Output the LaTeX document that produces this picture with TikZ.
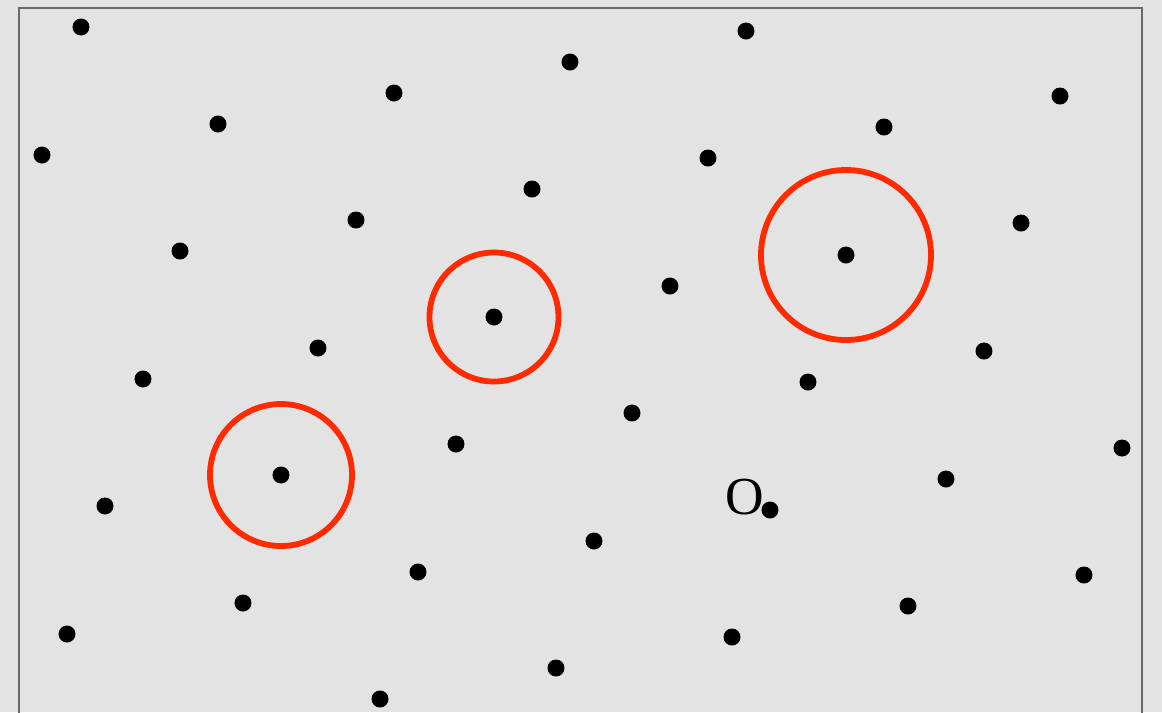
\documentclass[tikz,border=0pt]{standalone}
\usepackage{fontspec}
\setmainfont{Liberation Serif}
\usetikzlibrary{positioning}
\definecolor{plane}{HTML}{E3E3E3}
\definecolor{frame}{HTML}{6A6A6A}
\definecolor{ring}{HTML}{FF2A00}
\tikzset{
  pt/.style={circle,fill=black,inner sep=0pt,minimum size=0.17cm},
  ring/.style={draw=ring,line width=0.058cm}
}

\begin{document}
\begin{tikzpicture}
  \useasboundingbox[fill=plane] (0,0) rectangle (11.62,-7.12);
  \draw[frame,line width=0.015cm] (0.19,-7.5) -- (0.19,-0.08) -- (11.42,-0.08) -- (11.42,-7.5);

  \node[pt] (p1) at (0.81,-0.27) {};
  \node[pt] (p2) at (7.46,-0.31) {};
  \node[pt] (p3) at (5.70,-0.62) {};
  \node[pt] (p4) at (3.94,-0.93) {};
  \node[pt] (p5) at (10.60,-0.96) {};
  \node[pt] (p6) at (2.18,-1.24) {};
  \node[pt] (p7) at (8.84,-1.27) {};
  \node[pt] (p8) at (0.42,-1.55) {};
  \node[pt] (p9) at (7.08,-1.58) {};
  \node[pt] (p10) at (5.32,-1.89) {};
  \node[pt] (p11) at (3.56,-2.20) {};
  \node[pt] (p12) at (10.21,-2.23) {};
  \node[pt] (p13) at (1.80,-2.51) {};
  \node[pt] (p14) at (8.46,-2.55) {};
  \node[pt] (p15) at (6.70,-2.86) {};
  \node[pt] (p16) at (4.94,-3.17) {};
  \node[pt] (p17) at (3.18,-3.48) {};
  \node[pt] (p18) at (9.84,-3.51) {};
  \node[pt] (p19) at (1.43,-3.79) {};
  \node[pt] (p20) at (8.08,-3.82) {};
  \node[pt] (p21) at (6.32,-4.13) {};
  \node[pt] (p22) at (4.56,-4.44) {};
  \node[pt] (p23) at (11.22,-4.48) {};
  \node[pt] (p24) at (9.46,-4.79) {};
  \node[pt] (p25) at (2.81,-4.75) {};
  \node[pt] (p26) at (1.05,-5.06) {};
  \node[pt] (p27) at (7.70,-5.10) {};
  \node[pt] (p28) at (5.94,-5.41) {};
  \node[pt] (p29) at (4.18,-5.72) {};
  \node[pt] (p30) at (10.84,-5.75) {};
  \node[pt] (p31) at (2.43,-6.03) {};
  \node[pt] (p32) at (9.08,-6.06) {};
  \node[pt] (p33) at (0.67,-6.34) {};
  \node[pt] (p34) at (7.32,-6.37) {};
  \node[pt] (p35) at (5.56,-6.68) {};
  \node[pt] (p36) at (3.80,-6.99) {};

  % origin
  \node[inner sep=0pt,anchor=base] (o) at (7.45,-5.14) {\fontsize{15.2}{16}\selectfont O};

  \draw[ring] (p14) circle (0.85cm);
  \draw[ring] (p16) circle (0.645cm);
  \draw[ring] (p25) circle (0.71cm);
\end{tikzpicture}
\end{document}
